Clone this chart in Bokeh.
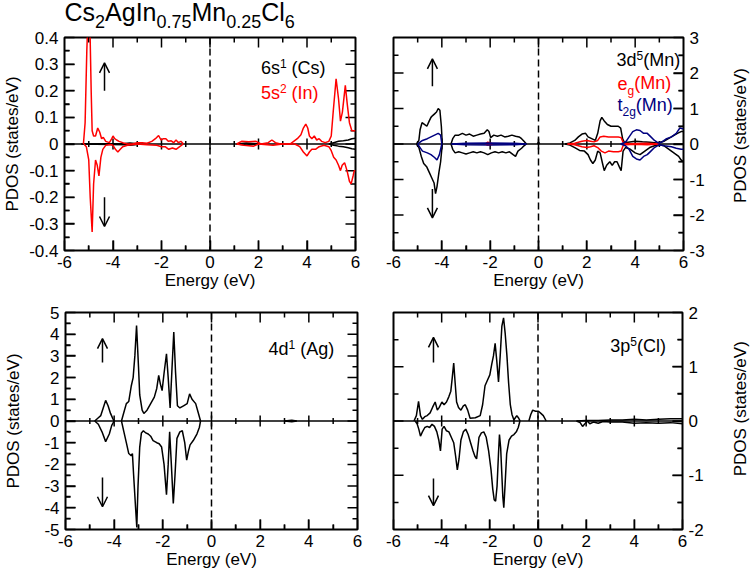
import math
import numpy as np
from bokeh.plotting import figure
from bokeh.layouts import column, row
from bokeh.models import Range1d, FixedTicker, Span, Label, Arrow, OpenHead, CustomJSTickFormatter
from bokeh.embed import file_html
from bokeh.resources import INLINE

FONT = "Liberation Sans"
N = float("nan")

# ---------------- data ----------------
X_TICKS = [-6, -4, -2, 0, 2, 4, 6]
Y1_TICKS = [-0.4, -0.3, -0.2, -0.1, 0, 0.1, 0.2, 0.3, 0.4]
Y2_TICKS = [-3, -2, -1, 0, 1, 2, 3]
Y3_TICKS = [-5, -4, -3, -2, -1, 0, 1, 2, 3, 4, 5]
Y4_TICKS = [-2, -1, 0, 1, 2]

# Panel 1: Cs 6s (black), In 5s (red)
cs_up_E = [-5.3, -3.5, -3.3, -3.1, -2.9, N, 1.1, 1.5, 2.0, N, 4.9, 5.1, 5.3, 5.5, 5.7, 5.85, 6.0]
cs_up_v = [0, 0.002, 0.004, 0.002, 0, N, 0, 0.004, 0, N, 0, 0.005, 0.01, 0.012, 0.015, 0.02, 0.022]
cs_dn_E = [-5.3, -3.5, -3.3, -3.1, -2.9, N, 1.1, 1.5, 2.0, N, 4.9, 5.1, 5.3, 5.5, 5.7, 5.85, 6.0]
cs_dn_v = [0, -0.003, -0.005, -0.003, 0, N, 0, -0.004, 0, N, 0, -0.005, -0.008, -0.01, -0.014, -0.018, -0.02]

in_up_E = [-5.22, -5.15, -5.08, -5.02, -4.96, -4.9, -4.86, -4.8, -4.72, -4.63, -4.55, -4.47, -4.4,
           -4.3, -4.15, -4.05, -4.0, -3.93, -3.85, -3.75, -3.6, -3.4, -3.2, -3.0, -2.8, -2.6, -2.4,
           -2.25, -2.12, -2.02, -1.92, -1.82, -1.72, -1.6, -1.5, -1.4, -1.3, -1.2, -1.1, N,
           1.1, 1.3, 1.6, 1.9, 2.1, 2.4, 2.55, 2.7, 2.9, 3.1, 3.3, 3.45, 3.6, 3.75, 3.85, 3.95,
           4.03, 4.1, 4.2, 4.3, 4.4, 4.5, 4.6, 4.75, 4.9, 5.0, 5.08, 5.2, 5.3, 5.38, 5.46, 5.58,
           5.66, 5.75, 5.85, 5.95, 6.0]
in_up_v = [0, 0.08, 0.35, 0.5, 0.48, 0.2, 0.05, 0.03, 0.03, 0.06, 0.045, 0.02, 0.025,
           0.01, 0.005, 0.02, 0.03, 0.02, 0.015, 0.01, 0.005, 0.0, 0.0, 0.005, 0.005, 0.003, 0.01,
           0.02, 0.032, 0.015, 0.02, 0.02, 0.01, 0.012, 0.005, 0.015, 0.005, 0.01, 0, N,
           0, 0.01, 0.008, 0.01, 0, 0.005, 0.015, 0.005, 0, 0, 0, 0.01, 0.02, 0.035, 0.06, 0.075,
           0.06, 0.03, 0.02, 0.03, 0.015, 0.02, 0.01, 0.005, 0.01, 0.03, 0.12, 0.245, 0.17, 0.086, 0.12, 0.22,
           0.15, 0.08, 0.05, 0.05, 0.05]
in_dn_E = [-5.2, -5.1, -5.0, -4.94, -4.86, -4.8, -4.72, -4.65, -4.58, -4.5, -4.42, -4.3, -4.1,
           -4.0, -3.9, -3.8, -3.7, -3.6, -3.4, -3.0, -2.6, -2.2, -2.0, -1.85, -1.7, -1.55, -1.4,
           -1.25, -1.1, N, 1.1, 1.4, 1.8, 2.0, 2.6, 3.0, 3.5, 3.7, 3.85, 4.0, 4.1, 4.2, 4.35,
           4.5, 4.7, 4.9, 5.0, 5.1, 5.2, 5.3, 5.38, 5.45, 5.55, 5.65, 5.75, 5.82, 5.9, 5.95, 6.0]
in_dn_v = [0, -0.01, -0.06, -0.2, -0.33, -0.15, -0.06, -0.08, -0.12, -0.05, -0.02, -0.005, -0.002,
           -0.005, -0.02, -0.03, -0.02, -0.01, -0.005, 0, -0.003, -0.005, -0.01, -0.01, -0.02, -0.015, -0.02,
           -0.01, 0, N, 0, -0.005, -0.008, 0, -0.005, 0, 0, -0.01, -0.03, -0.045, -0.03, -0.02, -0.02,
           -0.01, -0.005, -0.01, -0.025, -0.05, -0.06, -0.08, -0.1, -0.08, -0.07, -0.1, -0.14, -0.15, -0.12, -0.1, -0.1]

# Panel 2: Mn 3d (black), eg (red), t2g (navy)
d_up_E = [-5.05, -4.95, -4.9, -4.82, -4.72, -4.62, -4.52, -4.45, -4.38, -4.3, -4.22, -4.15, -4.08, -4.02, -3.98, N,
          -3.62, -3.55, -3.45, -3.3, -3.15, -3.0, -2.85, -2.7, -2.55, -2.4, -2.25, -2.12, -2.05, -1.98,
          -1.85, -1.7, -1.55, -1.4, -1.25, -1.1, -0.95, -0.8, -0.7, -0.6, -0.5, N, -0.05, 0.0, 0.05, N,
          1.1, 1.3, 1.5, 1.65, 1.8, 1.95, 2.05, 2.2, 2.35, 2.45, 2.55, 2.62, 2.72, 2.85, 3.0, 3.15,
          3.3, 3.4, 3.48, 3.55, 3.7, 4.0, 4.3, 4.6, 4.9, 5.2, 5.5, 5.75, 5.9, 6.0]
d_up_v = [0, 0.1, 0.4, 0.6, 0.55, 0.5, 0.65, 0.75, 0.8, 0.85, 0.9, 1.0, 0.95, 0.5, 0, N,
          0, 0.15, 0.25, 0.25, 0.3, 0.25, 0.28, 0.22, 0.25, 0.28, 0.3, 0.4, 0.35, 0.18,
          0.25, 0.22, 0.25, 0.2, 0.22, 0.25, 0.22, 0.2, 0.15, 0.08, 0, N, 0, 0.05, 0, N,
          0, 0.03, 0.1, 0.2, 0.28, 0.3, 0.2, 0.15, 0.1, 0.3, 0.65, 0.75, 0.65, 0.55, 0.5, 0.5,
          0.5, 0.45, 0.15, 0.05, 0.05, 0.08, 0.06, 0.05, 0.03, 0.08, 0.2, 0.3, 0.35, 0.35]
d_dn_E = [-5.05, -4.95, -4.85, -4.75, -4.62, -4.52, -4.42, -4.32, -4.26, -4.2, -4.12, -4.05, -3.98, N,
          -3.62, -3.55, -3.45, -3.3, -3.15, -3.0, -2.85, -2.7, -2.55, -2.4, -2.25, -2.1, -1.95, -1.8,
          -1.65, -1.5, -1.35, -1.2, -1.05, -0.95, -0.85, -0.7, -0.6, -0.5, N,
          1.1, 1.3, 1.5, 1.7, 1.9, 2.05, 2.15, 2.25, 2.35, 2.45, 2.55, 2.65, 2.72, 2.82, 2.95, 3.05,
          3.15, 3.25, 3.35, 3.42, 3.5, 3.6, 3.8, 4.0, 4.2, 4.4, 4.6, 4.8, 5.0, 5.2, 5.4, 5.6, 5.8, 5.9, 6.0]
d_dn_v = [0, -0.1, -0.35, -0.55, -0.65, -0.8, -0.95, -1.1, -1.4, -1.2, -0.8, -0.5, 0, N,
          0, -0.15, -0.25, -0.22, -0.25, -0.28, -0.25, -0.22, -0.25, -0.22, -0.25, -0.3, -0.25, -0.22,
          -0.25, -0.22, -0.25, -0.22, -0.3, -0.35, -0.2, -0.12, -0.05, 0, N,
          0, -0.03, -0.1, -0.18, -0.2, -0.3, -0.45, -0.55, -0.45, -0.2, -0.25, -0.55, -0.75, -0.6, -0.5, -0.6,
          -0.5, -0.5, -0.65, -0.75, -0.2, -0.1, -0.15, -0.25, -0.3, -0.2, -0.1, -0.05, -0.02, -0.05, -0.15, -0.25, -0.35, -0.45, -0.5]

eg_up_E = [-2.2, -2.1, -2.0, -1.9, N, 1.2, 1.5, 1.8, 2.0, 2.15, 2.3, 2.45, 2.55, 2.7, 2.9, 3.1, 3.3, 3.42, 3.5, 3.6, 3.8, 4.5, 5.0]
eg_up_v = [0, 0.05, 0.03, 0, N, 0, 0.02, 0.08, 0.1, 0.08, 0.06, 0.1, 0.2, 0.22, 0.2, 0.2, 0.2, 0.18, 0.05, 0.02, 0.01, 0.02, 0]
eg_dn_E = [-2.2, -2.1, -2.0, -1.9, N, 1.2, 1.5, 1.8, 2.0, 2.15, 2.3, 2.45, 2.6, 2.75, 2.9, 3.1, 3.3, 3.42, 3.5, 3.6, 4.0, 4.5, 5.0]
eg_dn_v = [0, -0.03, -0.02, 0, N, 0, -0.02, -0.08, -0.1, -0.08, -0.05, -0.1, -0.2, -0.25, -0.2, -0.22, -0.22, -0.2, -0.05, -0.02, -0.01, -0.02, 0]

t2g_up_E = [-5.0, -4.9, -4.8, -4.6, -4.45, -4.3, -4.15, -4.05, -4.0, N, -3.6, -3.0, -2.0, -1.0, -0.5, N,
            3.4, 3.6, 3.75, 3.9, 4.05, 4.2, 4.35, 4.5, 4.65, 4.8, 4.95, 5.1, 5.3, 5.5, 5.7, 5.85, 6.0]
t2g_up_v = [0, 0.05, 0.1, 0.15, 0.2, 0.25, 0.3, 0.25, 0, N, 0, 0.02, 0.03, 0.02, 0, N,
            0, 0.05, 0.2, 0.35, 0.4, 0.38, 0.3, 0.3, 0.2, 0.1, 0.03, 0.05, 0.15, 0.2, 0.3, 0.45, 0.42]
t2g_dn_E = [-5.0, -4.9, -4.8, -4.6, -4.45, -4.3, -4.2, -4.1, -4.0, N, -3.6, -3.0, -2.0, -1.0, -0.5, N,
            3.4, 3.6, 3.75, 3.9, 4.05, 4.2, 4.35, 4.5, 4.65, 4.8, 5.0, 5.2, 5.5, 5.7, 5.9, 6.0]
t2g_dn_v = [0, -0.1, -0.2, -0.25, -0.3, -0.38, -0.45, -0.3, 0, N, 0, -0.02, -0.03, -0.02, 0, N,
            0, -0.05, -0.15, -0.35, -0.42, -0.45, -0.35, -0.3, -0.2, -0.1, -0.02, -0.05, -0.08, -0.12, -0.15, -0.15]

# Panel 3: Ag 4d
ag_up_E = [-4.8, -4.65, -4.55, -4.45, -4.35, -4.25, -4.15, -4.05, -4.0, N,
           -3.7, -3.6, -3.5, -3.4, -3.3, -3.22, -3.15, -3.08, -3.0, -2.95, -2.85, -2.78, -2.65, -2.5,
           -2.35, -2.25, -2.17, -2.1, -2.03, -1.95, -1.85, -1.78, -1.7, -1.62, -1.55, -1.48, -1.4,
           -1.3, -1.15, -1.0, -0.9, -0.8, -0.65, -0.55, -0.45, N, 3.0, 3.3, 3.5]
ag_up_v = [0, 0.15, 0.25, 0.6, 0.95, 0.7, 0.35, 0.1, 0, N,
           0, 0.4, 0.8, 0.9, 1.6, 2.0, 3.0, 4.4, 2.5, 1.2, 0.5, 0.35, 0.5, 0.8,
           1.1, 1.5, 2.1, 1.7, 1.4, 2.2, 3.1, 2.0, 0.6, 2.5, 4.1, 2.3, 0.7,
           0.6, 0.7, 0.8, 1.25, 1.0, 0.8, 0.4, 0, N, 0, 0.03, 0]
ag_dn_E = [-4.8, -4.65, -4.5, -4.35, -4.2, -4.1, -4.0, N,
           -3.7, -3.6, -3.5, -3.4, -3.3, -3.25, -3.2, -3.12, -3.07, -3.02, -2.95, -2.88, -2.8, -2.7,
           -2.6, -2.5, -2.4, -2.25, -2.15, -2.05, -1.95, -1.85, -1.78, -1.72, -1.65, -1.57, -1.5,
           -1.42, -1.3, -1.2, -1.1, -1.02, -0.95, -0.88, -0.75, -0.6, -0.5, -0.45, N, 3.0, 3.3, 3.5]
ag_dn_v = [0, -0.15, -0.5, -0.95, -0.6, -0.2, 0, N,
           0, -0.5, -1.0, -1.5, -1.6, -1.5, -2.5, -4.0, -4.9, -3.0, -1.2, -0.55, -0.45, -0.55,
           -0.6, -0.7, -0.9, -1.0, -1.05, -1.2, -2.0, -3.4, -2.0, -0.5, -2.0, -3.8, -2.5,
           -0.8, -0.5, -0.45, -1.0, -1.8, -1.4, -1.1, -0.9, -0.6, -0.3, 0, N, 0, -0.03, 0]

# Panel 4: Cl 3p
cl_up_E = [-5.15, -5.05, -4.96, -4.88, -4.8, -4.7, -4.6, -4.48, -4.38, -4.27, -4.18, -4.1, -3.99,
           -3.9, -3.8, -3.7, -3.62, -3.56, -3.5, -3.44, -3.38, -3.3, -3.2, -3.1, -3.02, -2.92,
           -2.82, -2.6, -2.4, -2.3, -2.2, -2.1, -2.0, -1.92, -1.85, -1.78, -1.71, -1.64, -1.57,
           -1.5, -1.43, -1.36, -1.29, -1.22, -1.15, -1.08, -1.0, -0.94, -0.88, -0.8, -0.74, N,
           -0.38, -0.3, -0.22, -0.1, 0.02, 0.12, 0.22, 0.34, N,
           1.6, 2.0, 2.5, 3.0, 3.5, 4.0, 4.5, 5.0, 5.5, 6.0]
cl_up_v = [0, 0.1, 0.36, 0.1, 0.03, 0.08, 0.1, 0.15, 0.25, 0.35, 0.2, 0.25, 0.35,
           0.3, 0.35, 0.45, 0.55, 0.8, 1.07, 0.7, 0.35, 0.25, 0.2, 0.28, 0.3, 0.2,
           0.05, 0.06, 0.1, 0.3, 0.65, 0.75, 0.85, 1.05, 1.2, 1.43, 1.1, 0.72, 1.2,
           1.75, 1.9, 1.6, 1.2, 0.7, 0.3, 0.12, 0.02, 0.06, 0.1, 0.05, 0, N,
           0, 0.12, 0.2, 0.18, 0.18, 0.14, 0.1, 0, N,
           0, 0.01, 0.01, 0.02, 0.02, 0.03, 0.02, 0.03, 0.04, 0.04]
cl_dn_E = [-5.1, -5.02, -4.95, -4.88, -4.8, -4.7, -4.6, -4.5, -4.4, -4.3, -4.2, -4.12, -4.05,
           -3.98, -3.9, -3.8, -3.7, -3.6, -3.5, -3.42, -3.35, -3.28, -3.2, -3.1, -3.0, -2.9,
           -2.8, -2.7, -2.62, -2.55, -2.45, -2.35, -2.25, -2.15, -2.05, -1.95, -1.88, -1.82,
           -1.76, -1.7, -1.64, -1.6, -1.55, -1.5, -1.46, -1.42, -1.37, -1.3, -1.2, -1.1, -1.0,
           -0.9, -0.82, -0.75, N,
           1.6, 1.75, 1.85, 1.95, 2.05, 2.15, 2.3, 2.5, 2.7, 3.0, 3.5, 4.0, 4.5, 5.0, 5.5, 6.0]
cl_dn_v = [0, -0.05, -0.15, -0.28, -0.2, -0.12, -0.1, -0.12, -0.06, -0.1, -0.2, -0.35, -0.55,
           -0.15, -0.1, -0.18, -0.2, -0.3, -0.4, -0.65, -0.9, -0.7, -0.35, -0.2, -0.15, -0.25,
           -0.4, -0.55, -0.65, -0.7, -0.3, -0.22, -0.2, -0.3, -0.55, -0.9, -1.25, -1.45,
           -1.48, -1.2, -0.6, -0.25, -0.5, -1.0, -1.4, -1.6, -1.2, -0.6, -0.35, -0.28, -0.25,
           -0.2, -0.12, 0, N,
           0, -0.03, -0.1, -0.05, 0, -0.05, -0.02, -0.04, -0.01, -0.02, -0.02, -0.04, -0.03, -0.04, -0.03, -0.05]

# ---------------- helpers ----------------
CW = {'C': .722, 's': .5, 'A': .667, 'g': .556, 'I': .278, 'n': .556, 'M': .833, 'l': .222,
      '.': .278, ' ': .278, '(': .333, ')': .333, 'd': .556, 'e': .556, 't': .278, 'p': .556}


def text_width(txt, size):
    return sum(CW.get(c, .556) for c in txt) * size


def rich(p, x, y, pieces, color, size=18, small=12, sup_raise=7, sub_drop=5):
    off = 0.0
    for txt, kind in pieces:
        fs = size if kind == "n" else small
        dy = 0 if kind == "n" else (sup_raise if kind == "sup" else -sub_drop)
        dy += 0.45 * fs  # compensate for the renderer's baseline placement
        lead = len(txt) - len(txt.lstrip(" "))
        off += text_width(" " * lead, fs)
        txt = txt.lstrip(" ")
        p.add_layout(Label(x=x, y=y, x_offset=off, y_offset=dy, text=txt,
                           text_font=FONT, text_font_size=f"{fs}px", text_color=color,
                           text_baseline="alphabetic", text_align="left"))
        off += text_width(txt, fs)


FMT = "return String(Math.round(tick*100)/100);"


def style_axis(ax):
    ax.axis_line_color = None
    ax.major_tick_line_color = "black"
    ax.minor_tick_line_color = "black"
    ax.major_tick_line_width = 1.5
    ax.minor_tick_line_width = 1.5
    ax.major_tick_in = 10
    ax.major_tick_out = 0
    ax.minor_tick_in = 5
    ax.minor_tick_out = 0
    ax.major_label_text_font = FONT
    ax.major_label_text_font_size = "17px"
    ax.major_label_text_color = "black"
    ax.axis_label_text_font = FONT
    ax.axis_label_text_font_size = "17px"
    ax.axis_label_text_font_style = "normal"
    ax.axis_label_text_color = "black"
    ax.formatter = CustomJSTickFormatter(code=FMT)


def mids(t):
    return [(a + b) / 2 for a, b in zip(t[:-1], t[1:])]


def make_panel(ylo, yhi, yticks, side, w, h, bl, br, bt, bb, ylab_standoff):
    p = figure(width=w, height=h, x_range=Range1d(-6, 6), y_range=Range1d(ylo, yhi),
               output_backend="svg", toolbar_location=None, y_axis_location=side, title=None,
               min_border_left=bl, min_border_right=br, min_border_top=bt, min_border_bottom=bb,
               x_axis_label="Energy (eV)")
    p.grid.visible = False
    p.outline_line_color = "black"
    p.outline_line_width = 2
    p.outline_line_alpha = 1
    p.background_fill_color = "white"
    p.border_fill_color = "white"
    for ax in p.xaxis:
        ax.ticker = FixedTicker(ticks=X_TICKS, minor_ticks=mids(X_TICKS))
        style_axis(ax)
        ax.major_label_standoff = 5
        ax.axis_label_standoff = 0
    for ax in p.yaxis:
        ax.ticker = FixedTicker(ticks=yticks, minor_ticks=mids(yticks))
        style_axis(ax)
        ax.major_label_standoff = 6
        if side == "left":
            ax.axis_label = "PDOS (states/eV)"
            ax.axis_label_standoff = ylab_standoff
    # zero line and Fermi level
    p.add_layout(Span(location=0, dimension="width", line_color="black", line_width=1.5, level="underlay"))
    p.add_layout(Span(location=0, dimension="height", line_color="black", line_width=1.5,
                      line_dash="7 4", level="underlay"))
    return p


def frame_ticks(p, ylo, yhi, yticks, fw, fh):
    # inward ticks on all four frame edges and short ticks across the zero line,
    # each one its own short line
    xin, xmn = X_TICKS[1:-1], mids(X_TICKS)
    yin, ymn = yticks[1:-1], mids(yticks)
    ly = (yhi - ylo) / fh
    lx = 12.0 / fw
    for xs, L in ((xin, 10), (xmn, 5)):
        for x in xs:
            p.line([x, x], [ylo, ylo + L * ly], line_color="black", line_width=1.5)
            p.line([x, x], [yhi, yhi - L * ly], line_color="black", line_width=1.5)
            z = 5.5 if L == 10 else 3
            p.line([x, x], [-z * ly, z * ly], line_color="black", line_width=1.5)
    for ys, L in ((yin, 10), (ymn, 5)):
        for y in ys:
            p.line([-6, -6 + L * lx], [y, y], line_color="black", line_width=1.5)
            p.line([6, 6 - L * lx], [y, y], line_color="black", line_width=1.5)


def arrows(p, x, up0, up1, dn0, dn1):
    for a, b in ((up0, up1), (dn0, dn1)):
        p.add_layout(Arrow(end=OpenHead(size=10, line_width=1.5, line_color="black"),
                           x_start=x, y_start=a, x_end=x, y_end=b,
                           line_width=1.5, line_color="black"))


def strip(w, h):
    s = figure(width=w, height=h, x_range=Range1d(0, w), y_range=Range1d(0, h),
               x_axis_type=None, y_axis_type=None, min_border=0, title=None,
               output_backend="svg", toolbar_location=None)
    s.outline_line_color = None
    s.grid.visible = False
    s.border_fill_color = "white"
    s.background_fill_color = "white"
    return s


def side_label(h, yc):
    s = strip(25, h)
    s.add_layout(Label(x=13, y=yc, angle=math.pi / 2, text="PDOS (states/eV)", text_font=FONT,
                       text_font_size="17px", text_color="black", text_align="center",
                       text_baseline="middle"))
    return s


LW = 1.5
RED = "#ff0000"
NAVY = "#000080"

# ---- title strip
ts = strip(752, 31)
rich(ts, 64, 8.5, [("Cs", "n"), ("2", "sub"), ("AgIn", "n"), ("0.75", "sub"), ("Mn", "n"),
                   ("0.25", "sub"), ("Cl", "n"), ("6", "sub")],
     "black", size=25, small=18, sub_drop=6.5)

# ---- panel 1
p1 = make_panel(-0.4, 0.4, Y1_TICKS, "left", 376, 265, 64, 21, 6, 46, 4)
frame_ticks(p1, -0.4, 0.4, Y1_TICKS, 291, 213)
p1.line(np.array(cs_up_E), np.array(cs_up_v), line_color="black", line_width=LW)
p1.line(np.array(cs_dn_E), np.array(cs_dn_v), line_color="black", line_width=LW)
p1.line(np.array(in_up_E), np.array(in_up_v), line_color=RED, line_width=LW)
p1.line(np.array(in_dn_E), np.array(in_dn_v), line_color=RED, line_width=LW)
arrows(p1, -4.35, 0.2, 0.305, -0.2, -0.31)
rich(p1, 2.1, 0.255, [("6s", "n"), ("1", "sup"), (" (Cs)", "n")], "black")
rich(p1, 2.1, 0.162, [("5s", "n"), ("2", "sup"), (" (In)", "n")], RED)

# ---- panel 2
p2 = make_panel(-3, 3, Y2_TICKS, "right", 351, 265, 17, 44, 6, 46, 0)
frame_ticks(p2, -3, 3, Y2_TICKS, 290, 213)
p2.line(np.array(d_up_E), np.array(d_up_v), line_color="black", line_width=LW)
p2.line(np.array(d_dn_E), np.array(d_dn_v), line_color="black", line_width=LW)
p2.line(np.array(eg_up_E), np.array(eg_up_v), line_color=RED, line_width=LW)
p2.line(np.array(eg_dn_E), np.array(eg_dn_v), line_color=RED, line_width=LW)
p2.line(np.array(t2g_up_E), np.array(t2g_up_v), line_color=NAVY, line_width=LW)
p2.line(np.array(t2g_dn_E), np.array(t2g_dn_v), line_color=NAVY, line_width=LW)
arrows(p2, -4.39, 1.63, 2.4, -1.27, -2.08)
rich(p2, 3.23, 2.14, [("3d", "n"), ("5", "sup"), ("(Mn)", "n")], "black")
rich(p2, 3.27, 1.49, [("e", "n"), ("g", "sub"), ("(Mn)", "n")], RED)
rich(p2, 3.27, 0.88, [("t", "n"), ("2g", "sub"), ("(Mn)", "n")], NAVY)
s2 = side_label(265, 143)

# ---- panel 3
p3 = make_panel(-5, 5, Y3_TICKS, "left", 376, 283, 65, 19, 16, 49, 18)
frame_ticks(p3, -5, 5, Y3_TICKS, 292, 218)
p3.line(np.array(ag_up_E), np.array(ag_up_v), line_color="black", line_width=LW)
p3.line(np.array(ag_dn_E), np.array(ag_dn_v), line_color="black", line_width=LW)
arrows(p3, -4.48, 2.7, 3.8, -2.6, -3.95)
rich(p3, 2.34, 2.95, [("4d", "n"), ("1", "sup"), (" (Ag)", "n")], "black")

# ---- panel 4
p4 = make_panel(-2, 2, Y4_TICKS, "right", 351, 283, 17, 45, 16, 50, 0)
frame_ticks(p4, -2, 2, Y4_TICKS, 289, 217)
p4.line(np.array(cl_up_E), np.array(cl_up_v), line_color="black", line_width=LW)
p4.line(np.array(cl_dn_E), np.array(cl_dn_v), line_color="black", line_width=LW)
arrows(p4, -4.34, 1.08, 1.54, -1.06, -1.56)
rich(p4, 3.0, 1.24, [("3p", "n"), ("5", "sup"), ("(Cl)", "n")], "black")
s4 = side_label(283, 157.5)

layout = column(ts, row(p1, p2, s2, spacing=0), row(p3, p4, s4, spacing=0), spacing=0)
open("out.html", "w").write(file_html(layout, INLINE))
